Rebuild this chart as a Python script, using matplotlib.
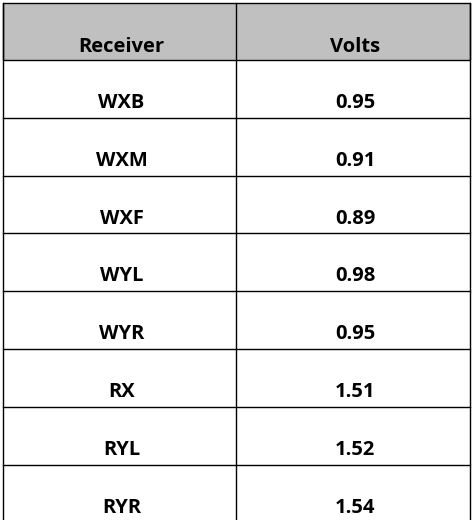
import matplotlib.pyplot as plt
from matplotlib.patches import Rectangle

headers = ["Receiver", "Volts"]
receivers = ["WXB", "WXM", "WXF", "WYL", "WYR", "RX", "RYL", "RYR"]
volts = ["0.95", "0.91", "0.89", "0.98", "0.95", "1.51", "1.52", "1.54"]

W, H = 474, 520
fig = plt.figure(figsize=(W / 100, H / 100), dpi=100)
ax = fig.add_axes([0, 0, 1, 1])
ax.set_xlim(0, W)
ax.set_ylim(H, 0)
ax.axis("off")

left, mid, right = 3, 236, 470
top, head_h, row_h = 3, 57, 57.8

# header
ax.add_patch(Rectangle((left, top), right - left, head_h, facecolor="#c0c0c0",
                       edgecolor="black", lw=1))
ax.plot([mid, mid], [top, H + 5], color="black", lw=1)
ax.plot([left, left], [top, H + 5], color="black", lw=1)
ax.plot([right, right], [top, H + 5], color="black", lw=1)

font = dict(family="Open Sans", fontsize=14.5, fontweight="bold", ha="center", va="center")
cx = [(left + mid) / 2 + 2, (mid + right) / 2 + 2]
ax.text(cx[0], top + 44, headers[0], **font)
ax.text(cx[1], top + 44, headers[1], **font)

y0 = top + head_h
for i, (r, v) in enumerate(zip(receivers, volts)):
    yt = y0 + i * row_h
    ax.plot([left, right], [yt + row_h, yt + row_h], color="black", lw=1)
    ax.text(cx[0], yt + 43, r, **font)
    ax.text(cx[1], yt + 43, v, **font)

fig.savefig("out.png", dpi=100)
